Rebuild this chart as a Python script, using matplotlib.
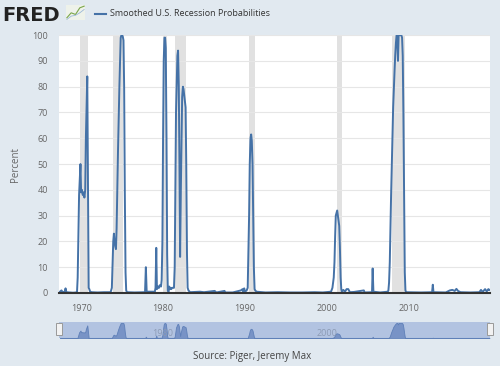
import numpy as np
import matplotlib.pyplot as plt
from matplotlib.patches import Rectangle

plt.rcParams['font.family'] = ['Open Sans', 'DejaVu Sans']

# Smoothed U.S. recession probabilities (percent)
dates = [1967.42, 1967.6, 1967.75, 1968.0, 1968.1, 1968.2, 1968.6, 1969.0, 1969.42,
         1969.5, 1969.58, 1969.75, 1969.92, 1970.0, 1970.1, 1970.2, 1970.3, 1970.4,
         1970.5, 1970.58, 1970.75, 1970.83, 1970.92, 1971.0, 1971.1, 1971.3, 1972.0,
         1972.8, 1973.6, 1973.75, 1973.92, 1974.0, 1974.08, 1974.17, 1974.25, 1974.33,
         1974.5, 1974.67, 1974.83, 1974.92, 1975.0, 1975.08, 1975.17, 1975.25, 1975.33,
         1975.42, 1975.5, 1975.6, 1976.5, 1977.8, 1977.9, 1978.0, 1979.0, 1979.08,
         1979.17, 1979.25, 1979.4, 1979.5, 1979.6, 1979.75, 1979.83, 1979.92, 1980.0,
         1980.08, 1980.17, 1980.25, 1980.33, 1980.42, 1980.5, 1980.58, 1980.67, 1980.75,
         1980.83, 1980.92, 1981.0, 1981.1, 1981.25, 1981.33, 1981.42, 1981.58, 1981.75,
         1981.83, 1981.92, 1982.0, 1982.08, 1982.17, 1982.33, 1982.42, 1982.5, 1982.67,
         1982.75, 1982.83, 1982.92, 1983.0, 1983.1, 1983.3, 1984.5, 1985.0, 1986.3,
         1986.5, 1987.5, 1987.6, 1988.5, 1989.5, 1989.7, 1989.8, 1989.9, 1990.0, 1990.2,
         1990.33, 1990.5, 1990.58, 1990.67, 1990.75, 1990.83, 1990.92, 1991.0, 1991.08,
         1991.17, 1991.25, 1991.4, 1992.5, 1994.0, 1995.5, 1997.0, 1998.5, 1999.5,
         2000.5, 2000.67, 2000.83, 2000.92, 2001.0, 2001.08, 2001.17, 2001.25, 2001.33,
         2001.5, 2001.58, 2001.67, 2001.75, 2001.83, 2002.0, 2002.2, 2002.4, 2002.6,
         2002.8, 2003.3, 2004.5, 2004.6, 2005.5, 2005.58, 2005.67, 2006.5, 2007.42,
         2007.5, 2007.58, 2007.67, 2007.75, 2007.83, 2007.92, 2008.0, 2008.08, 2008.17,
         2008.25, 2008.33, 2008.42, 2008.5, 2008.58, 2008.67, 2008.75, 2008.83, 2008.92,
         2009.0, 2009.08, 2009.17, 2009.25, 2009.33, 2009.42, 2009.5, 2009.58, 2009.67,
         2011.5, 2012.83, 2012.92, 2013.0, 2014.5, 2015.0, 2015.3, 2015.6, 2015.8,
         2016.0, 2016.3, 2017.5, 2018.6, 2018.8, 2019.0, 2019.3, 2019.5, 2019.7, 2019.83]
probs = [0.5, 1.0, 0.3, 0.5, 1.8, 0.3, 0.2, 0.1, 0.2,
         0.5, 6, 38, 50, 39, 40, 38, 39, 37,
         40, 60, 84, 45, 2, 1.5, 0.5, 0.3, 0.2,
         0.3, 0.3, 2, 20, 23, 20, 18, 17, 25,
         55, 80, 99, 100, 100, 99.5, 98, 80, 40,
         8, 1, 0.3, 0.2, 0.3, 10, 0.5, 0.5, 2,
         17.5, 1.5, 2.5, 2, 3, 2.5, 5, 20, 60,
         90, 99, 99, 95, 60, 15, 1, 0.5, 2.5,
         1.5, 2, 1.5, 2, 2, 2, 10, 70, 92,
         94, 80, 50, 14, 40, 76, 80, 79, 74,
         72, 50, 15, 2, 1, 0.3, 0.5, 0.3, 0.8,
         0.2, 0.8, 0.2, 0.2, 1, 1.5, 0.5, 1.8, 0.5, 1,
         2, 30, 50, 60, 61.5, 59, 50, 30, 10,
         1.5, 1, 0.5, 0.2, 0.3, 0.2, 0.2, 0.3, 0.2,
         0.5, 2, 6, 12, 22, 30, 31, 32, 30,
         26, 18, 6, 1.5, 0.5, 1.2, 0.5, 1.5, 1.5,
         0.3, 0.4, 1, 0.2, 0.3, 9.5, 0.5, 0.2, 0.5,
         1, 4, 12, 25, 38, 50, 60, 72, 80,
         86, 92, 97, 100, 100, 90, 100, 100, 100,
         100, 100, 99, 92, 70, 35, 8, 1, 0.3,
         0.2, 0.3, 3.2, 0.3, 0.2, 1, 1.2, 0.8, 1.6,
         0.8, 0.3, 0.2, 0.3, 1.2, 0.4, 1.5, 0.6, 1.5, 1.2]

# NBER recession periods (start, end)
rec_start = [1969.92, 1973.83, 1980.0, 1981.5, 1990.5, 2001.17, 2007.92]
rec_end = [1970.83, 1975.17, 1980.5, 1982.83, 1991.17, 2001.83, 2009.5]

yticks = [0, 10, 20, 30, 40, 50, 60, 70, 80, 90, 100]
xticks = [1970, 1980, 1990, 2000, 2010]

bg = '#e1e9f0'
line_c = '#4572a7'

fig = plt.figure(figsize=(5, 3.66), dpi=100, facecolor=bg)
ax = fig.add_axes([0.118, 0.1995, 0.862, 0.7045])
ax.set_facecolor('white')

for s, e in zip(rec_start, rec_end):
    ax.axvspan(s, e, color='#e1e1e1', lw=0, zorder=1)
ax.plot(dates, probs, color=line_c, lw=1.4, zorder=3)

ax.set_xlim(1967.3, 2019.9)
ax.set_ylim(0, 100)
ax.set_yticks(yticks)
ax.set_xticks(xticks)
ax.grid(axis='y', color='#e6e6e6', lw=0.8, zorder=0)
for sp in ['top', 'right', 'left']:
    ax.spines[sp].set_visible(False)
ax.spines['bottom'].set_color('#333333')
ax.spines['bottom'].set_linewidth(1.5)
ax.spines['bottom'].set_zorder(4)
ax.tick_params(axis='both', length=0, labelsize=6.5, colors='#666666')
ax.tick_params(axis='x', pad=8)
ax.tick_params(axis='y', pad=8)
ax.set_ylabel('Percent', fontsize=7, color='#666666')
ax.yaxis.set_label_coords(-0.088, 0.5)

# navigator
nav = fig.add_axes([0.118, 0.076, 0.862, 0.043])
nav.set_facecolor('#b2c3e1')
nav.fill_between(dates, probs, color='#7893c6', lw=0.6, edgecolor='#5f80b8')
nav.set_xlim(1967.3, 2019.9)
nav.set_ylim(0, 103)
nav.set_xticks([])
nav.set_yticks([])
for sp in nav.spines.values():
    sp.set_visible(False)
nav.axhline(0, color='#8aa0c4', lw=0.8)
for yr in [1980, 2000]:
    nav.text(yr, 30, str(yr), fontsize=6.5, color='#8c9bb5', ha='center', va='center')
for xf in [0.118, 0.98]:
    fig.patches.append(Rectangle((xf - 0.006, 0.085), 0.012, 0.032, transform=fig.transFigure,
                                 facecolor='#f2f2f2', edgecolor='#999999', lw=0.7))

# header
fig.text(0.005, 0.958, 'FRED', fontsize=14, fontweight='heavy', color='#222222',
         va='center', family='DejaVu Sans')
icon = fig.add_axes([0.132, 0.945, 0.038, 0.04])
icon.set_facecolor('#eef2ea')
icon.plot([0, 1, 2, 3, 4], [0.2, 0.5, 0.4, 0.8, 0.9], color='#7aa64a', lw=0.8)
icon.plot([0, 1, 2, 3, 4], [0.1, 0.3, 0.35, 0.5, 0.7], color='#9bb8d8', lw=0.6)
icon.set_xticks([])
icon.set_yticks([])
for sp in icon.spines.values():
    sp.set_visible(False)
fig.add_artist(plt.Line2D([0.19, 0.212], [0.962, 0.962], color=line_c, lw=1.5,
                          transform=fig.transFigure))
fig.text(0.22, 0.962, 'Smoothed U.S. Recession Probabilities', fontsize=6.5, color='#333333',
         va='center')

fig.text(0.505, 0.025, 'Source: Piger, Jeremy Max', fontsize=7, color='#444444',
         ha='center', va='center')

fig.savefig('out.png', dpi=100, facecolor=bg)
